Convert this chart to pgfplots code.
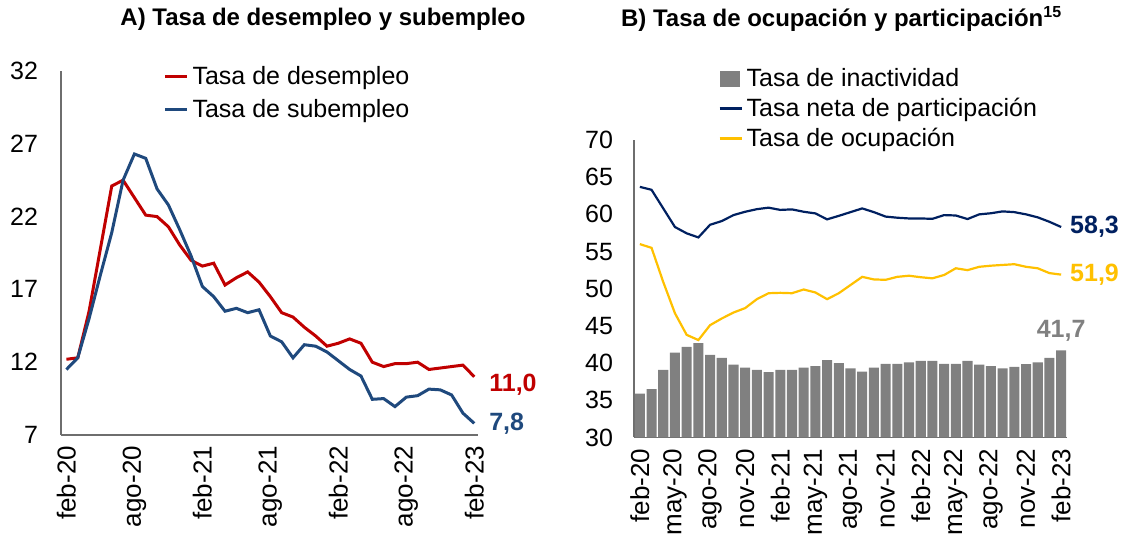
\documentclass[border=0pt]{standalone}
\usepackage{fontspec}
\setmainfont{Liberation Sans}
\usepackage{pgfplots}
\usepackage{pgfplotstable}
\pgfplotsset{compat=1.18}
\definecolor{cred}{RGB}{192,0,0}
\definecolor{cblue}{RGB}{31,73,125}
\definecolor{cnavy}{RGB}{0,32,96}
\definecolor{cyellow}{RGB}{255,192,0}
\definecolor{cgray}{RGB}{128,128,128}
\definecolor{caxis}{RGB}{110,110,110}

\pgfplotstableread{
i desemp subemp
0 12.2 11.5
1 12.3 12.3
2 15.5 15.0
3 19.8 18.0
4 24.1 20.9
5 24.5 24.5
6 23.3 26.3
7 22.1 26.0
8 22.0 23.9
9 21.3 22.8
10 20.05 21.1
11 19.0 19.3
12 18.6 17.2
13 18.8 16.5
14 17.3 15.5
15 17.8 15.7
16 18.2 15.4
17 17.5 15.6
18 16.5 13.8
19 15.4 13.4
20 15.1 12.3
21 14.4 13.2
22 13.8 13.1
23 13.1 12.7
24 13.3 12.1
25 13.6 11.5
26 13.3 11.05
27 12.0 9.45
28 11.7 9.5
29 11.9 8.95
30 11.9 9.6
31 12.0 9.7
32 11.5 10.15
33 11.6 10.1
34 11.7 9.75
35 11.8 8.5
36 11.0 7.8
}\tablaA

\pgfplotstableread{
i inact part ocup
0 35.9 63.7 56.0
1 36.5 63.3 55.5
2 39.1 60.8 50.9
3 41.4 58.3 46.7
4 42.2 57.45 43.8
5 42.7 56.9 43.1
6 41.1 58.6 45.1
7 40.7 59.1 46.0
8 39.8 59.9 46.8
9 39.4 60.35 47.4
10 39.1 60.7 48.6
11 38.8 60.9 49.4
12 39.1 60.6 49.45
13 39.1 60.67 49.4
14 39.4 60.35 49.9
15 39.6 60.13 49.5
16 40.4 59.33 48.6
17 40.0 59.8 49.4
18 39.3 60.3 50.5
19 38.85 60.8 51.6
20 39.4 60.3 51.25
21 39.9 59.7 51.2
22 39.9 59.55 51.6
23 40.1 59.45 51.75
24 40.3 59.45 51.55
25 40.3 59.4 51.4
26 39.9 59.9 51.85
27 39.9 59.85 52.75
28 40.3 59.37 52.5
29 39.8 60.0 52.95
30 39.6 60.15 53.1
31 39.3 60.4 53.2
32 39.5 60.3 53.3
33 39.85 60.0 52.95
34 40.1 59.6 52.75
35 40.7 59.0 52.1
36 41.7 58.3 51.9
}\tablaB

\begin{document}
\begin{tikzpicture}
\path[use as bounding box] (0,0) rectangle (562.5pt,269.5pt);
\pgfplotsset{
  every axis/.append style={
    scale only axis,
    axis x line=bottom, axis y line=left,
    axis line style={caxis, line width=0.8pt, -},
    major tick length=0pt,
    tick label style={font=\fontsize{12.5}{14}\selectfont},
    xticklabel style={font=\fontsize{13}{15}\selectfont},
    /pgf/number format/assume math mode=true,
    clip mode=individual,
    legend cell align=left,
  }
}
\node[font=\fontsize{12}{14}\selectfont\bfseries] at (161.5pt,260pt) {A) Tasa de desempleo y subempleo};
\node[font=\fontsize{12}{14}\selectfont\bfseries, anchor=west] at (307pt,260pt) {B) Tasa de ocupación y participación\textsuperscript{15}};

\begin{axis}[
  at={(30.5pt,52pt)}, anchor=south west,
  width=208.5pt, height=182pt,
  xmin=-0.48, xmax=36.33, ymin=7, ymax=32,
  ytick={7,12,17,22,27,32},
  xtick={0,6,...,36},
  xticklabels={feb-20,ago-20,feb-21,ago-21,feb-22,ago-22,feb-23},
  xticklabel style={rotate=90, anchor=east, xshift=-2pt},
  yticklabel style={xshift=-8pt},
  legend style={at={(0.245,1.02)}, anchor=north west, draw=none, fill=none,
    font=\fontsize{12.5}{14}\selectfont, inner sep=0pt, row sep=4pt,
    nodes={inner xsep=2pt, inner ysep=1pt}},
  legend image code/.code={\draw[#1] (0pt,0pt) -- (11pt,0pt);},
]
\addplot[cred, line width=1.5pt] table[x=i, y=desemp] {\tablaA};
\addlegendentry{Tasa de desempleo}
\addplot[cblue, line width=1.5pt] table[x=i, y=subemp] {\tablaA};
\addlegendentry{Tasa de subempleo}
\node[anchor=west, text=cred, font=\fontsize{12.5}{14}\selectfont\bfseries] at (axis cs:36,11.0) [xshift=4pt, yshift=-4pt] {11,0};
\node[anchor=west, text=cblue, font=\fontsize{12.5}{14}\selectfont\bfseries] at (axis cs:36,7.8) [xshift=4pt] {7,8};
\end{axis}

\begin{axis}[
  at={(317pt,50.75pt)}, anchor=south west,
  width=216.5pt, height=148.75pt,
  xmin=-0.5, xmax=36.5, ymin=30, ymax=70,
  ytick={30,35,...,70},
  xtick={0,3,...,36},
  xticklabels={feb-20,may-20,ago-20,nov-20,feb-21,may-21,ago-21,nov-21,feb-22,may-22,ago-22,nov-22,feb-23},
  xticklabel style={rotate=90, anchor=east, xshift=-2pt},
  yticklabel style={xshift=-7pt},
  legend style={at={(0.194,1.25)}, anchor=north west, draw=none, fill=none,
    font=\fontsize{12.5}{14}\selectfont, inner sep=0pt, row sep=2.3pt,
    nodes={inner xsep=2pt, inner ysep=1pt}},
]
\addplot[ybar, bar width=0.86, fill=cgray, draw=none,
  legend image code/.code={\fill[cgray] (0pt,-4pt) rectangle (10pt,4pt);}]
  table[x=i, y=inact] {\tablaB};
\addlegendentry{Tasa de inactividad}
\addplot[cnavy, line width=1.1pt,
  legend image code/.code={\draw[cnavy, line width=1.1pt] (0pt,0pt) -- (11pt,0pt);}]
  table[x=i, y=part] {\tablaB};
\addlegendentry{Tasa neta de participación}
\addplot[cyellow, line width=1.1pt,
  legend image code/.code={\draw[cyellow, line width=1.1pt] (0pt,0pt) -- (11pt,0pt);}]
  table[x=i, y=ocup] {\tablaB};
\addlegendentry{Tasa de ocupación}
\node[anchor=west, text=cnavy, font=\fontsize{12.5}{14}\selectfont\bfseries] at (axis cs:36,58.3) [xshift=1pt] {58,3};
\node[anchor=west, text=cyellow, font=\fontsize{12.5}{14}\selectfont\bfseries] at (axis cs:36,51.9) [xshift=1pt] {51,9};
\node[anchor=south, text=cgray, font=\fontsize{12.5}{14}\selectfont\bfseries] at (axis cs:36,41.7) [yshift=1pt] {41,7};
\end{axis}
\end{tikzpicture}
\end{document}
